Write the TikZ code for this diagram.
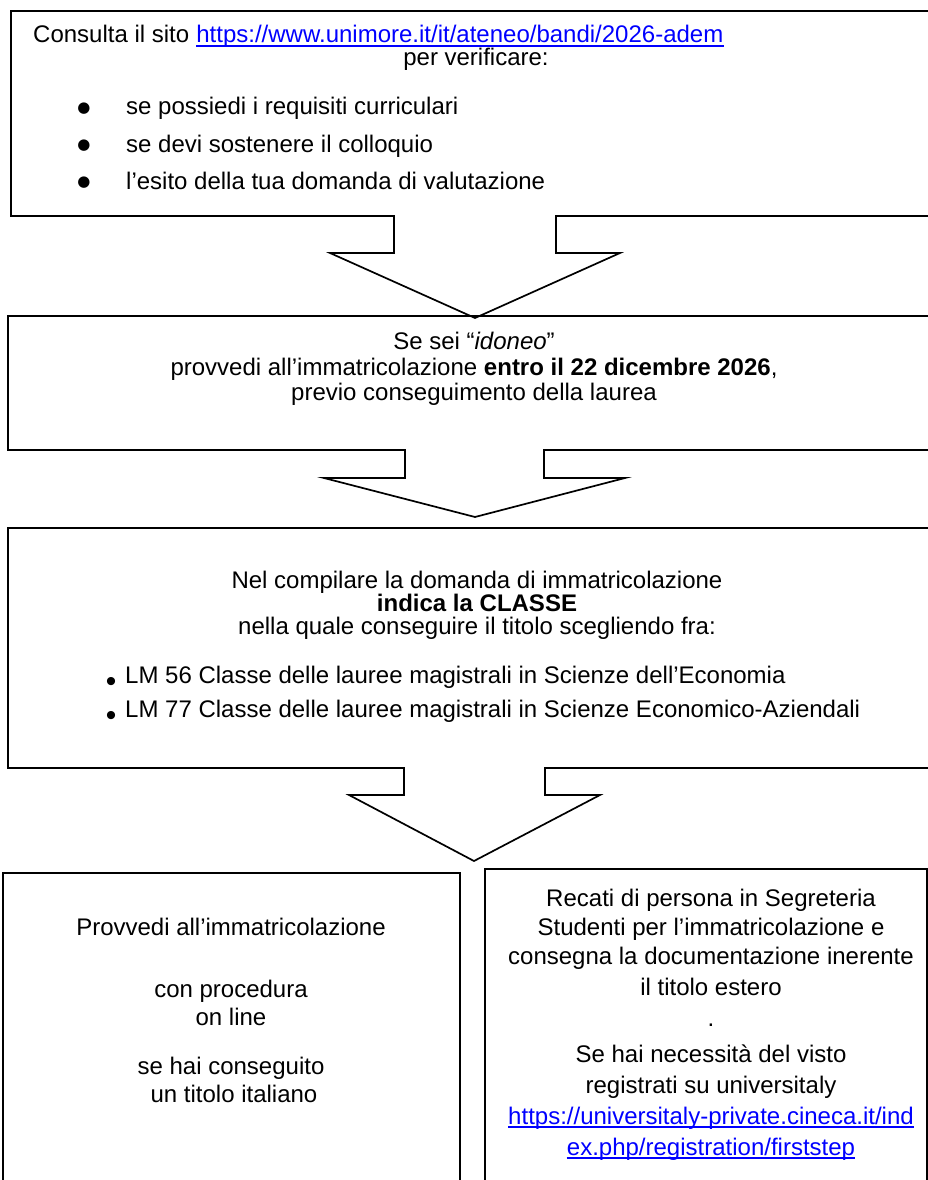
\documentclass[tikz,border=0pt]{standalone}
\usepackage{fontspec}
\setmainfont{Liberation Sans}
\newfontfamily\bulfont{DejaVu Sans}
\definecolor{linkblue}{RGB}{0,0,255}
\begin{document}
\begin{tikzpicture}[x=1pt,y=-1pt,
  txt/.style={inner sep=0, font=\fontsize{24}{28}\selectfont, anchor=base},
  txtl/.style={txt, anchor=base west},
  lnk/.style={txt, text=linkblue},
  ulink/.style={draw=linkblue, line width=1.5pt},
  bigbul/.style={inner sep=0, font=\bulfont\fontsize{15}{15}\selectfont, anchor=center},
  smallbul/.style={inner sep=0, font=\fontsize{30}{30}\selectfont, anchor=center},
  outline/.style={draw=black, line width=1.7pt, line join=miter}]
\useasboundingbox (0,0) rectangle (928,1180);
\clip (0,0) rectangle (928,1180);
% box outlines with arrows
\draw[outline] (940,11) -- (11,11) -- (11,216) -- (394,216) -- (394,253) -- (330,253) -- (475,318) -- (620,253) -- (556,253) -- (556,216) -- (940,216);
\draw[outline] (940,316) -- (8,316) -- (8,450) -- (405,450) -- (405,478) -- (324,478) -- (475,517) -- (625,478) -- (544,478) -- (544,450) -- (940,450);
\draw[outline] (940,528) -- (8,528) -- (8,768) -- (404,768) -- (404,795) -- (349,795) -- (474,861) -- (600,795) -- (545,795) -- (545,768) -- (940,768);
\draw[outline] (3,1190) -- (3,873) -- (460,873) -- (460,1190);
\draw[outline] (485,1190) -- (485,869) -- (927,869) -- (927,1190);
% box 1
\node[txtl] (c1) at (33,43) {Consulta il sito};
\node[lnk, anchor=base west] (u1) at ([xshift=6.7pt]c1.base east) {https://www.unimore.it/it/ateneo/bandi/2026-adem};
\draw[ulink] ([yshift=-3pt]u1.base west) -- ([yshift=-3pt]u1.base east);
\node[txt] (c2) at (476,66) {per verificare:};
\node[bigbul] (b1) at (84,108.7) {●};
\node[bigbul] (b2) at (84,145.7) {●};
\node[bigbul] (b3) at (84,182.7) {●};
\node[txtl] (r1) at (126,115) {se possiedi i requisiti curriculari};
\node[txtl] (r2) at (126,152) {se devi sostenere il colloquio};
\node[txtl] (r3) at (126,189) {l’esito della tua domanda di valutazione};
% box 2
\node[txt] (d1) at (474,349) {Se sei “\textit{idoneo}”};
\node[txt] (d2) at (474,375) {provvedi all’immatricolazione \textbf{entro il 22 dicembre 2026},};
\node[txt] (d3) at (474,400) {previo conseguimento della laurea};
% box 3
\node[txt] (e1) at (477,588) {Nel compilare la domanda di immatricolazione};
\node[txt] (e2) at (477,611) {\textbf{indica la CLASSE}};
\node[txt] (e3) at (477,634) {nella quale conseguire il titolo scegliendo fra:};
\node[smallbul] (s1) at (111,684.8) {•};
\node[smallbul] (s2) at (111,718.5) {•};
\node[txtl] (m1) at (125,683) {LM 56 Classe delle lauree magistrali in Scienze dell’Economia};
\node[txtl] (m2) at (125,717) {LM 77 Classe delle lauree magistrali in Scienze Economico-Aziendali};
% bottom left
\node[txt] (f1) at (231,935) {Provvedi all’immatricolazione};
\node[txt] (f2) at (231,997) {con procedura};
\node[txt] (f3) at (231,1025) {on line};
\node[txt] (f4) at (231,1074) {se hai conseguito};
\node[txt] (f5) at (234,1102) {un titolo italiano};
% bottom right
\node[txt] (g1) at (711,906) {Recati di persona in Segreteria};
\node[txt] (g2) at (711,935) {Studenti per l’immatricolazione e};
\node[txt] (g3) at (711,964) {consegna la documentazione inerente};
\node[txt] (g4) at (711,995) {il titolo estero};
\node[txt] (g5) at (711,1026) {.};
\node[txt] (g6) at (711,1062) {Se hai necessità del visto};
\node[txt] (g7) at (711,1093) {registrati su universitaly};
\node[lnk] (g8) at (711,1124) {https://universitaly-private.cineca.it/ind};
\node[lnk] (g9) at (711,1155) {ex.php/registration/firststep};
\draw[ulink] ([yshift=-3pt]g8.base west) -- ([yshift=-3pt]g8.base east);
\draw[ulink] ([yshift=-3pt]g9.base west) -- ([yshift=-3pt]g9.base east);
\end{tikzpicture}
\end{document}
